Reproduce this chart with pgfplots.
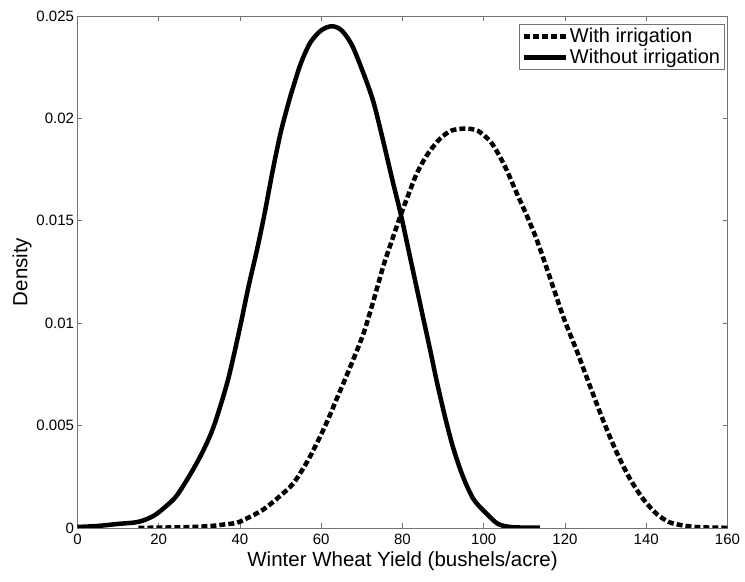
\documentclass[border=0pt]{standalone}
\usepackage{pgfplots}
\pgfplotsset{compat=1.18}
\usepackage{fontspec}
\setmainfont{Liberation Sans}
\begin{document}
\begin{tikzpicture}
\begin{axis}[
  scale only axis,
  width=650pt, height=512pt,
  xmin=0, xmax=160, ymin=0, ymax=0.025,
  xtick={0,20,...,160},
  ytick={0,0.005,0.01,0.015,0.02,0.025},
  yticklabels={0,0.005,0.01,0.015,0.02,0.025},
  scaled y ticks=false,
  tick align=inside,
  major tick length=5pt,
  axis line style={gray!90!black, line width=0.8pt},
  tick style={gray!90!black, line width=0.8pt},
  /pgf/number format/assume math mode=true,
  ticklabel style={font=\fontsize{15}{18}\selectfont},
  xticklabel style={yshift=-3pt},
  xlabel={Winter Wheat Yield (bushels/acre)},
  ylabel={Density},
  label style={font=\fontsize{20.5}{24}\selectfont},
  xlabel style={yshift=0pt},
  ylabel style={yshift=-2pt},
  legend cell align=left,
  legend style={at={(0.995,0.984)}, anchor=north east, draw=gray!90!black,
    font=\fontsize{20}{22}\selectfont, inner sep=2pt, row sep=1pt,
    nodes={inner sep=2pt}},
  legend image code/.code={\draw[#1] (0pt,0pt) -- (42pt,0pt);},
]
\addplot[black, line width=4.5pt, dash pattern=on 6pt off 3pt, line join=round, smooth, tension=0.5] coordinates {
(15,0) (20,0.00002) (25,0.00003) (28.6,0.00005) (33,0.0001) (36,0.00017)
(39.3,0.00026) (42.5,0.00055) (45.8,0.00091) (49.5,0.0015) (53.2,0.0022)
(57,0.0034) (61,0.005) (64,0.0064) (67,0.0078) (70.4,0.0095) (73,0.0112)
(75.3,0.0128) (77.5,0.0141) (79.6,0.0153) (81.5,0.0163) (83.5,0.0173)
(86,0.0182) (89.2,0.0190) (92,0.0194) (95.4,0.0195) (98.5,0.0194)
(101.5,0.0189) (103.5,0.0183) (105.6,0.0175) (108,0.0164) (110.5,0.0153)
(113,0.0141) (116,0.0124) (119.6,0.0103) (123,0.0086) (126.2,0.0069)
(129.5,0.0052) (132.7,0.0037) (136,0.0024) (139.3,0.0014) (142.5,0.0007)
(145.5,0.0003) (148.3,0.00015) (152,0.00005) (156,0.00002) (160,0.00001)
};
\addlegendentry{With irrigation}
\addplot[black, line width=4.5pt, line join=round, smooth, tension=0.5] coordinates {
(0,0.00005) (5,0.0001) (10,0.0002) (15,0.0003) (18.8,0.0006) (22,0.0011)
(24.5,0.0016) (28,0.0027) (31,0.0038) (33.6,0.005) (37,0.0072) (40,0.0098)
(42,0.0117) (44.2,0.0136) (46,0.0153) (48,0.0174) (50,0.0193) (52,0.0208)
(53.2,0.0216) (55,0.0227) (57.3,0.0237) (60,0.0243) (62.6,0.0245)
(65,0.0243) (67.5,0.0236) (70,0.0224) (72.7,0.0209) (75,0.0191)
(77.5,0.0170) (79.6,0.0153) (82,0.0131) (84.5,0.0108) (86.8,0.0087)
(88.5,0.0071) (90.5,0.0054) (92.5,0.0039) (94.9,0.0025) (97.5,0.0014)
(100.7,0.0007) (103.5,0.0002) (106.5,0.00005) (110,0.00002) (113.8,0.00002)
};
\addlegendentry{Without irrigation}
\end{axis}
\path (current axis.south west)+(-77.5pt,-54pt);
\path (current axis.north east)+(17.5pt,16pt);
\end{tikzpicture}
\end{document}
